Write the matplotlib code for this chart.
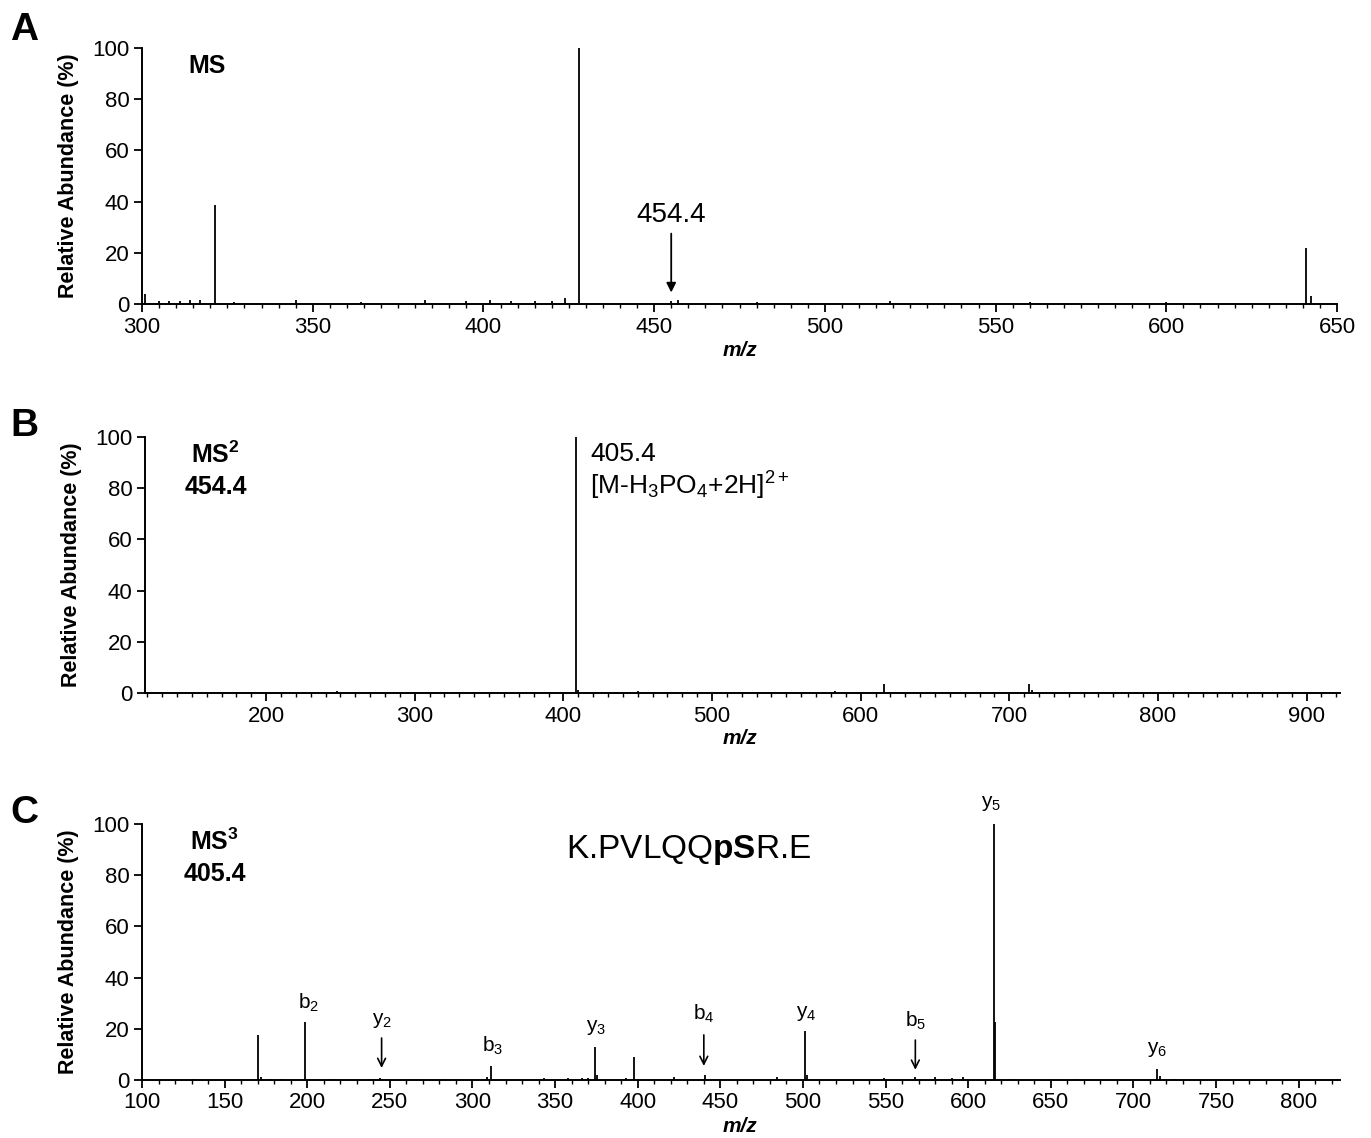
import matplotlib
matplotlib.use("Agg")
import matplotlib.pyplot as plt
from matplotlib.ticker import MultipleLocator

plt.rcParams["font.family"] = ["Liberation Sans", "DejaVu Sans"]
plt.rcParams["mathtext.fontset"] = "custom"
plt.rcParams["mathtext.rm"] = "Liberation Sans"
plt.rcParams["mathtext.it"] = "Liberation Sans:italic"
plt.rcParams["mathtext.bf"] = "Liberation Sans:bold"

# --- panel A: full MS scan ---
ms1_mz = [301, 305, 308, 311, 314, 317, 321.5, 327, 345, 364, 383, 395, 402,
          408, 415, 420, 424, 428, 455, 457, 480, 519, 560, 600, 641, 642.5]
ms1_int = [4.0, 1.0, 1.2, 1.2, 1.5, 1.5, 38.5, 0.8, 1.5, 0.8, 1.5, 1.0, 1.5,
           1.0, 1.0, 1.2, 2.5, 100, 1.0, 1.5, 0.8, 1.2, 0.6, 0.6, 22.0, 3.0]

# --- panel B: MS2 of 454.4 ---
ms2_mz = [160, 200, 248, 320, 380, 408.4, 410, 450, 520, 583, 615.5, 650, 713.5, 715, 760, 815]
ms2_int = [0.4, 0.5, 0.8, 0.4, 0.5, 100, 1.0, 0.6, 0.4, 0.8, 3.5, 0.4, 3.5, 1.0, 0.4, 0.4]

# --- panel C: MS3 of 405.4 ---
ms3_mz = [131, 170, 172, 178, 184, 198.5, 214, 240, 244, 266, 283, 290, 309, 311.5,
          343, 358, 366, 370, 374, 375.5, 393, 397.5, 422, 441, 484, 501, 502.5,
          549, 568, 580, 590, 597, 615.5, 616.5, 626, 653, 665, 714.5, 716, 725]
ms3_int = [0.5, 17.7, 1.2, 0.5, 0.5, 22.8, 0.5, 0.5, 0.8, 0.5, 0.5, 0.5, 1.0, 5.3,
           0.8, 0.8, 0.6, 0.7, 13.0, 2.0, 0.6, 8.9, 1.2, 2.0, 1.0, 19.0, 2.0,
           0.6, 1.0, 1.2, 0.6, 1.0, 100, 22.8, 0.5, 0.4, 0.4, 4.3, 1.5, 0.5]

# ion labels for panel C: (text, x, y, arrow)
ion_labels = [
    (r"b$_2$", 201, 30.0, None),
    (r"y$_2$", 245, 23.4, (16.4, 4.7)),
    (r"b$_3$", 312, 13.3, None),
    (r"y$_3$", 375, 20.7, None),
    (r"b$_4$", 440, 26.0, (17.6, 5.5)),
    (r"y$_4$", 502, 26.0, None),
    (r"b$_5$", 568, 23.0, (15.6, 4.0)),
    (r"y$_5$", 614, 108.0, None),
    (r"y$_6$", 714, 12.0, None),
]

W, H = 1371, 1138
fig = plt.figure(figsize=(W / 100, H / 100), dpi=100)


def px_axes(left, right, top, bottom):
    return fig.add_axes([left / W, 1 - bottom / H, (right - left) / W, (bottom - top) / H])


def style(ax, xlim, major, minor):
    ax.set_xlim(*xlim)
    ax.set_ylim(0, 100)
    ax.spines["top"].set_visible(False)
    ax.spines["right"].set_visible(False)
    for s in ("left", "bottom"):
        ax.spines[s].set_linewidth(1.4)
    ax.xaxis.set_major_locator(MultipleLocator(major))
    ax.xaxis.set_minor_locator(MultipleLocator(minor))
    ax.yaxis.set_major_locator(MultipleLocator(20))
    ax.tick_params(axis="both", which="major", direction="out", length=6, width=1.3,
                   labelsize=16, pad=3)
    ax.tick_params(axis="x", which="minor", direction="out", length=3, width=1.0)
    ax.set_ylabel("Relative Abundance (%)", fontsize=15.5, fontweight="bold")
    ax.yaxis.set_label_coords(-0.053, 0.5)


def spectrum(ax, mz, inten):
    ax.vlines(mz, 0, inten, color="black", lw=1.3, clip_on=False)


# Panel A
axA = px_axes(142, 1337, 48, 304)
style(axA, (300, 650), 50, 5)
spectrum(axA, ms1_mz, ms1_int)
axA.text(319, 93, "MS", fontsize=18, fontweight="bold", ha="center", va="center")
axA.text(455, 34.8, "454.4", fontsize=20, ha="center", va="center")
axA.annotate("", xy=(455, 4.5), xytext=(455, 27.5),
             arrowprops=dict(arrowstyle="-|>", color="black", lw=1.3,
                             mutation_scale=14, shrinkA=0, shrinkB=0))

# Panel B
axB = px_axes(145, 1340, 437, 693)
style(axB, (118.5, 922.5), 100, 10)
spectrum(axB, ms2_mz, ms2_int)
axB.text(166, 93, r"MS$^\mathbf{2}$", fontsize=18, fontweight="bold", ha="center", va="center")
axB.text(166, 80.5, "454.4", fontsize=18, fontweight="bold", ha="center", va="center")
axB.text(418, 93.4, "405.4", fontsize=19, ha="left", va="center")
axB.text(418, 80.9, r"[M-H$_3$PO$_4$+2H]$^{2+}$", fontsize=19, ha="left", va="center")

# Panel C
axC = px_axes(142, 1340, 824, 1080)
style(axC, (100, 825), 50, 10)
spectrum(axC, ms3_mz, ms3_int)
axC.text(144, 93, r"MS$^\mathbf{3}$", fontsize=18, fontweight="bold", ha="center", va="center")
axC.text(144, 80.5, "405.4", fontsize=18, fontweight="bold", ha="center", va="center")
axC.text(431, 90, r"K.PVLQQ$\mathbf{pS}$R.E", fontsize=24, ha="center", va="center")
for txt, x, y, arr in ion_labels:
    axC.text(x, y, txt, fontsize=15, ha="center", va="center", clip_on=False)
    if arr:
        axC.annotate("", xy=(x, arr[1]), xytext=(x, arr[0]),
                     arrowprops=dict(arrowstyle="->", color="black", lw=1.2,
                                     mutation_scale=14, shrinkA=0, shrinkB=0))

# panel letters and m/z labels
for letter, ytop in [("A", 12), ("B", 408), ("C", 795)]:
    fig.text(10 / W, 1 - ytop / H, letter, fontsize=28, fontweight="bold", va="top", ha="left")
for yc in (350, 738, 1126):
    fig.text(740 / W, 1 - yc / H, "m/z", fontsize=15, fontweight="bold", style="italic",
             ha="center", va="center")

fig.savefig("out.png", dpi=100, facecolor="white")
